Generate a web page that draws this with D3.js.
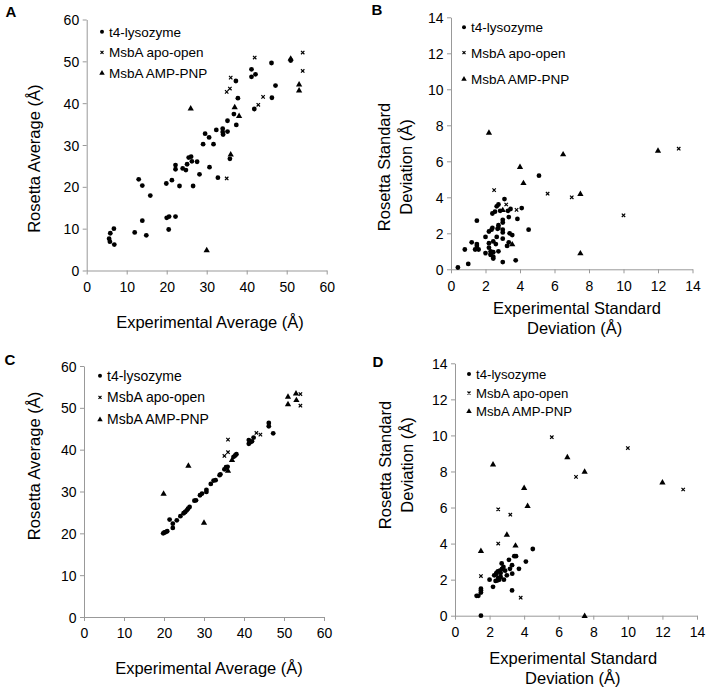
<!DOCTYPE html>
<html><head><meta charset="utf-8">
<script src="https://cdn.jsdelivr.net/npm/d3@7"></script>
<style>body{margin:0;background:#fff} text{font-family:"Liberation Sans",Arial,Helvetica,sans-serif;fill:#000}</style>
</head><body>
<svg id="c" width="707" height="690"></svg>
<script>
const seriesNames = ["t4-lysozyme", "MsbA apo-open", "MsbA AMP-PNP"];
const avgTicks = [0, 10, 20, 30, 40, 50, 60];
const sdTicks = [0, 2, 4, 6, 8, 10, 12, 14];

// Panel A: average distances
const aT4 = [[6.8,10.0],[5.9,8.9],[5.6,7.6],[5.8,6.9],[6.9,6.2],[12.0,9.1],[13.9,11.9],[14.9,8.4],[20.0,12.6],[20.6,12.9],[22.2,12.9],[20.5,9.8],
  [13.0,21.8],[13.9,20.3],[15.9,17.9],[19.9,20.8],[21.3,21.6],[22.2,25.2],[22.2,24.2],[23.2,20.2],[24.0,24.4],[24.8,24.0],[25.1,25.4],[25.5,27.0],
  [26.1,27.2],[26.3,26.1],[26.6,20.2],[27.6,26.0],[28.2,23.0],[29.1,30.2],[29.6,32.7],[30.6,31.8],[30.7,24.7],[31.7,30.2],[32.4,33.6],[32.8,22.2],
  [34.0,33.9],[34.0,33.1],[34.1,32.5],[35.2,33.2],[35.2,35.8],[35.8,26.7],[36.8,37.4],[37.3,45.3],[37.8,41.2],[37.4,34.8],[41.2,48.1],[41.2,46.3],
  [42.2,46.9],[41.9,38.6],[46.2,49.6],[46.3,41.3],[47.2,44.2],[51.0,50.2]];
const aApo = [[35.0,22.0],[35.0,42.7],[35.8,43.5],[36.0,46.1],[42.0,50.9],[42.9,39.6],[44.1,41.5],[54.0,52.1],[54.0,47.7]];
const aAmp = [[26.0,38.8],[30.0,4.9],[36.0,27.8],[37.0,39.1],[38.1,37.0],[51.0,50.7],[53.1,44.5],[53.1,43.1]];

// Panel B: standard deviations
const bT4 = [[0.4,0.1],[1.0,0.3],[0.8,1.1],[1.2,1.5],[1.5,2.7],[1.4,1.1],[1.5,1.4],[1.6,1.1],[2.0,1.8],[2.0,0.9],[2.2,1.45],[2.3,0.85],
  [2.35,2.2],[2.4,2.3],[2.4,3.1],[2.55,3.2],[2.65,3.5],[2.75,3.6],[3.1,3.9],[2.85,3.25],[3.3,3.25],[3.35,2.9],[3.45,3.35],[2.75,2.45],
  [2.75,2.3],[3.0,2.75],[3.0,2.6],[3.0,2.2],[3.0,2.05],[3.4,2.0],[3.55,1.9],[3.0,1.7],[3.35,1.5],[3.25,1.3],[2.75,1.0],[2.45,0.95],
  [2.45,0.7],[2.45,0.6],[2.3,0.8],[3.0,0.4],[3.75,0.5],[3.85,2.8],[4.1,3.4],[4.5,2.2],[5.1,5.2],[2.65,1.8],[2.45,1.55],[2.7,2.25],
  [2.2,1.2],[2.6,1.4],[2.2,2.1],[2.3,1.0],[1.5,1.3]];
const bApo = [[2.5,4.4],[3.2,3.6],[3.8,3.3],[5.6,4.2],[7.0,4.0],[10.0,3.0],[13.2,6.7]];
const bAmp = [[2.2,7.6],[4.0,5.7],[4.2,4.8],[6.5,6.4],[7.5,4.2],[7.5,0.9],[12.0,6.6],[3.55,1.4],[3.0,3.3]];

// Panel C: average distances
const cT4 = [[19.8,20.0],[20.1,20.2],[20.4,20.3],[20.8,20.5],[21.4,23.3],[22.2,22.3],[22.2,21.3],[23.2,23.1],[24.1,24.1],[24.9,24.8],
  [25.3,25.1],[25.7,25.5],[26.0,25.9],[26.4,26.3],[27.6,27.8],[28.0,27.9],[29.0,29.1],[29.5,29.5],[30.6,29.9],[30.6,30.4],[31.7,31.8],
  [32.4,32.6],[32.9,32.7],[33.9,33.9],[34.1,34.1],[35.1,35.3],[35.5,35.8],[35.9,35.9],[37.4,38.3],[37.8,38.6],[38.1,38.9],[41.2,42.3],
  [41.2,41.4],[41.6,41.8],[42.0,42.0],[42.4,42.9],[46.2,46.4],[46.2,45.6],[47.3,43.9]];
const cApo = [[35.1,38.5],[36.0,39.4],[36.0,42.4],[43.1,44.0],[44.1,43.6],[54.1,53.3],[54.1,50.5]];
const cAmp = [[19.9,29.5],[26.1,36.2],[30.0,22.6],[36.0,35.0],[37.0,37.6],[51.0,52.7],[51.0,50.9],[53.0,53.5],[53.1,51.9]];

// Panel D: standard deviations
const dT4 = [[1.5,0.0],[1.25,1.1],[1.35,1.1],[1.5,1.28],[1.5,1.4],[1.5,1.5],[2.0,2.0],[2.2,1.6],[2.27,2.24],[2.37,2.3],[2.4,2.37],
  [2.48,2.46],[2.35,1.93],[2.47,1.96],[2.56,2.0],[2.64,2.15],[2.64,2.37],[2.7,2.9],[2.72,2.6],[2.8,2.7],[2.83,2.0],[3.0,2.24],[3.12,3.1],
  [3.18,2.6],[3.3,2.8],[3.31,2.33],[3.3,1.4],[3.43,3.3],[3.53,3.3],[3.7,2.6],[4.1,3.0],[4.5,3.7],[2.5,2.1],[2.6,2.5],[2.9,2.5]];
const dApo = [[1.5,2.2],[2.5,4.0],[2.5,5.9],[3.2,5.6],[3.8,1.0],[5.6,9.9],[7.0,7.7],[10.0,9.3],[13.2,7.0]];
const dAmp = [[1.5,3.6],[2.2,8.4],[3.0,4.5],[3.5,3.9],[4.0,7.1],[4.2,6.1],[6.5,8.8],[7.5,8.0],[7.5,0.0],[12.0,7.4]];

const panels = [
  {label:"A", lp:[11,12], xr:[86.7,326.7], yr:[270.5,19.5], dom:[0,60], ticks:avgTicks, data:[aT4,aApo,aAmp],
   leg:{x:102, rows:[31.7,52.3,72.7], fs:13.5},
   yT:[{t:"Rosetta Average (Å)", x:34, y:158.7}], xT:[{t:"Experimental Average (Å)", x:210, y:322}]},
  {label:"B", lp:[377,10], xr:[451,692.5], yr:[269.3,17.3], dom:[0,14], ticks:sdTicks, data:[bT4,bApo,bAmp],
   leg:{x:464, rows:[27.3,52.7,78.7], fs:13.5},
   yT:[{t:"Rosetta Standard", x:384, y:167},{t:"Deviation (Å)", x:405.7, y:167}],
   xT:[{t:"Experimental Standard", x:577, y:308.3},{t:"Deviation (Å)", x:574.7, y:328.3}]},
  {label:"C", lp:[10,360], xr:[84,324], yr:[617,366], dom:[0,60], ticks:avgTicks, data:[cT4,cApo,cAmp],
   leg:{x:100, rows:[375.7,397.3,419.3], fs:14},
   yT:[{t:"Rosetta Average (Å)", x:34, y:466}], xT:[{t:"Experimental Average (Å)", x:209, y:668.3}]},
  {label:"D", lp:[378,362], xr:[455,697], yr:[615.7,363.3], dom:[0,14], ticks:sdTicks, data:[dT4,dApo,dAmp],
   leg:{x:469, rows:[374,393,411], fs:13.2},
   yT:[{t:"Rosetta Standard", x:385, y:465},{t:"Deviation (Å)", x:406.7, y:465}],
   xT:[{t:"Experimental Standard", x:573.3, y:658.3},{t:"Deviation (Å)", x:572.8, y:678.3}]}
];

const svg = d3.select("#c");
const axisColor = "#999";
const triPath = d3.symbol().type(d3.symbolTriangle).size(17)();
const triPathLeg = d3.symbol().type(d3.symbolTriangle).size(13)();

function drawMarker(g, kind, x, y, legend) {
  if (kind === 0) {
    g.append("circle").attr("cx", x).attr("cy", y).attr("r", legend ? 2.0 : 2.4).attr("fill", "#000");
  } else if (kind === 1) {
    const s = legend ? 1.5 : 1.7;
    g.append("path").attr("d", `M${x-s},${y-s}L${x+s},${y+s}M${x-s},${y+s}L${x+s},${y-s}`)
      .attr("stroke", "#000").attr("stroke-width", 1.2).attr("fill", "none");
  } else {
    g.append("path").attr("d", legend ? triPathLeg : triPath).attr("transform", `translate(${x},${y+0.4})`).attr("fill", "#000");
  }
}

panels.forEach(p => {
  const g = svg.append("g");
  const x = d3.scaleLinear().domain(p.dom).range(p.xr);
  const y = d3.scaleLinear().domain(p.dom).range(p.yr);

  const xa = g.append("g").attr("transform", `translate(0,${p.yr[0]})`)
    .call(d3.axisBottom(x).tickValues(p.ticks).tickSize(4).tickPadding(7.5).tickSizeOuter(0));
  const ya = g.append("g").attr("transform", `translate(${p.xr[0]},0)`)
    .call(d3.axisLeft(y).tickValues(p.ticks).tickSize(4).tickPadding(3.5).tickSizeOuter(0));
  [xa, ya].forEach(a => {
    a.select(".domain").attr("stroke", axisColor).attr("stroke-width", 1);
    a.selectAll(".tick line").attr("stroke", axisColor);
    a.selectAll(".tick text").attr("font-size", 14).attr("fill", "#000")
      .attr("font-family", '"Liberation Sans",Arial,sans-serif');
  });
  ya.selectAll(".tick text").attr("dy", "0.36em");

  // data
  p.data.forEach((series, k) => {
    const sg = g.append("g");
    series.forEach(d => drawMarker(sg, k, x(d[0]), y(d[1]), false));
  });

  // legend
  seriesNames.forEach((name, k) => {
    const cy = p.leg.rows[k];
    drawMarker(g, k, p.leg.x, cy, true);
    g.append("text").attr("x", p.leg.x + 7).attr("y", cy).attr("dy", "0.36em")
      .attr("font-size", p.leg.fs).text(name);
  });

  // titles
  p.yT.forEach(t => {
    g.append("text").attr("transform", `translate(${t.x},${t.y}) rotate(-90)`)
      .attr("text-anchor", "middle").attr("dy", "0.36em").attr("font-size", 16.5).text(t.t);
  });
  p.xT.forEach(t => {
    g.append("text").attr("x", t.x).attr("y", t.y).attr("text-anchor", "middle")
      .attr("dy", "0.36em").attr("font-size", 16.5).text(t.t);
  });
  g.append("text").attr("x", p.lp[0]).attr("y", p.lp[1]).attr("text-anchor", "middle").attr("dy", "0.36em")
    .attr("font-size", 15).attr("font-weight", "bold").text(p.label);
});
</script>
</body></html>
